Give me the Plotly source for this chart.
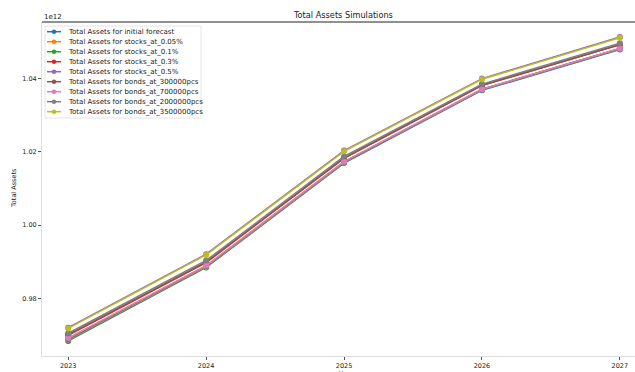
import plotly.graph_objects as go

years = [2023, 2024, 2025, 2026, 2027]
series_names = [
    "Total Assets for initial forecast",
    "Total Assets for stocks_at_0.05%",
    "Total Assets for stocks_at_0.1%",
    "Total Assets for stocks_at_0.3%",
    "Total Assets for stocks_at_0.5%",
    "Total Assets for bonds_at_300000pcs",
    "Total Assets for bonds_at_700000pcs",
    "Total Assets for bonds_at_2000000pcs",
    "Total Assets for bonds_at_3500000pcs",
]
initial = [0.9685e12, 0.9885e12, 1.0169e12, 1.0367e12, 1.0478e12]
stocks_005 = [0.9688e12, 0.9887e12, 1.0171e12, 1.0369e12, 1.0480e12]
stocks_01 = [0.9690e12, 0.9889e12, 1.0172e12, 1.0370e12, 1.0481e12]
stocks_03 = [0.9700e12, 0.9898e12, 1.0182e12, 1.0380e12, 1.0491e12]
stocks_05 = [0.9721e12, 0.9921e12, 1.0203e12, 1.0399e12, 1.0512e12]
bonds_300k = [0.9702e12, 0.9900e12, 1.0183e12, 1.0381e12, 1.0492e12]
bonds_700k = [0.9693e12, 0.9890e12, 1.0173e12, 1.0370e12, 1.0481e12]
bonds_2m = [0.9706e12, 0.9904e12, 1.0187e12, 1.0384e12, 1.0495e12]
bonds_3_5m = [0.9719e12, 0.9919e12, 1.0201e12, 1.0397e12, 1.0510e12]
all_series = [initial, stocks_005, stocks_01, stocks_03, stocks_05,
              bonds_300k, bonds_700k, bonds_2m, bonds_3_5m]
colors = ["#1f77b4", "#ff7f0e", "#2ca02c", "#d62728", "#9467bd",
          "#8c564b", "#e377c2", "#7f7f7f", "#bcbd22"]
y_tick_vals = [0.98e12, 1.00e12, 1.02e12, 1.04e12]
y_tick_text = ["0.98", "1.00", "1.02", "1.04"]
x_tick_text = ["2023", "2024", "2025", "2026", "2027"]

W, H = 635, 372
L, R, T, B = 42, 635, 22, 356
FONT = "DejaVu Sans"

def px(x):
    return (x - L) / (R - L)

def py(y):
    return (B - y) / (B - T)

fig = go.Figure()
for name, vals, c in zip(series_names, all_series, colors):
    fig.add_trace(go.Scatter(
        x=years, y=vals, name=name, mode="lines+markers",
        line=dict(color=c, width=1.5),
        marker=dict(color=c, size=6, symbol="circle"),
        showlegend=False,
    ))

shapes = []
annotations = []
# top spine
shapes.append(dict(type="line", xref="paper", yref="paper", x0=0, x1=1, y0=1, y1=1,
                   line=dict(color="#222222", width=1.2)))
# legend box
shapes.append(dict(type="rect", xref="paper", yref="paper",
                   x0=px(45), x1=px(201), y0=py(118), y1=py(26),
                   line=dict(color="#dddddd", width=0.8), fillcolor="rgba(255,255,255,0.85)",
                   layer="above"))
for i, (name, c) in enumerate(zip(series_names, colors)):
    yc = 31.7 + i * 10
    shapes.append(dict(type="line", xref="paper", yref="paper",
                       x0=px(47), x1=px(61), y0=py(yc), y1=py(yc),
                       line=dict(color=c, width=1.5), layer="above"))
    shapes.append(dict(type="circle", xref="paper", yref="paper",
                       x0=px(51.8), x1=px(56.2), y0=py(yc + 2.2), y1=py(yc - 2.2),
                       line=dict(color=c, width=0), fillcolor=c, layer="above"))
    annotations.append(dict(text=name, xref="paper", yref="paper", x=px(66), y=py(yc),
                            xanchor="left", yanchor="middle", showarrow=False,
                            font=dict(family=FONT, size=7, color="#222222")))

annotations.append(dict(text="Total Assets Simulations", xref="paper", yref="paper",
                        x=px(343), y=py(15), xanchor="center", yanchor="middle",
                        showarrow=False, font=dict(family=FONT, size=8.2, color="#222222")))
annotations.append(dict(text="1e12", xref="paper", yref="paper",
                        x=px(42), y=py(17), xanchor="left", yanchor="middle",
                        showarrow=False, font=dict(family=FONT, size=7, color="#222222")))
annotations.append(dict(text="Total Assets", xref="paper", yref="paper",
                        x=px(14), y=py(188), xanchor="center", yanchor="middle", textangle=-90,
                        showarrow=False, font=dict(family=FONT, size=6.5, color="#222222")))
annotations.append(dict(text="Year", xref="paper", yref="paper",
                        x=px(345), y=py(367.5), xanchor="center", yanchor="top",
                        showarrow=False, font=dict(family=FONT, size=6.5, color="#222222")))

fig.update_layout(
    width=W, height=H,
    margin=dict(l=L, r=W - R, t=T, b=H - B, pad=0),
    paper_bgcolor="white", plot_bgcolor="white",
    showlegend=False,
    font=dict(family=FONT, size=7, color="#222222"),
    shapes=shapes, annotations=annotations,
    xaxis=dict(range=[2022.81, 2027.11], tickvals=years, ticktext=x_tick_text,
               showgrid=False, zeroline=False, showline=True, linecolor="#dddddd",
               linewidth=1, ticks="outside", ticklen=3, tickcolor="#555555",
               tickfont=dict(family=FONT, size=6.5, color="#222222")),
    yaxis=dict(range=[0.9644e12, 1.0553e12], tickvals=y_tick_vals, ticktext=y_tick_text,
               showgrid=False, zeroline=False, showline=True, linecolor="#dddddd",
               linewidth=1, ticks="outside", ticklen=3, tickcolor="#555555",
               tickfont=dict(family=FONT, size=6.5, color="#222222")),
)

fig.write_html("out.html", config={"displayModeBar": False},
               post_script="document.body.style.margin='0';")
